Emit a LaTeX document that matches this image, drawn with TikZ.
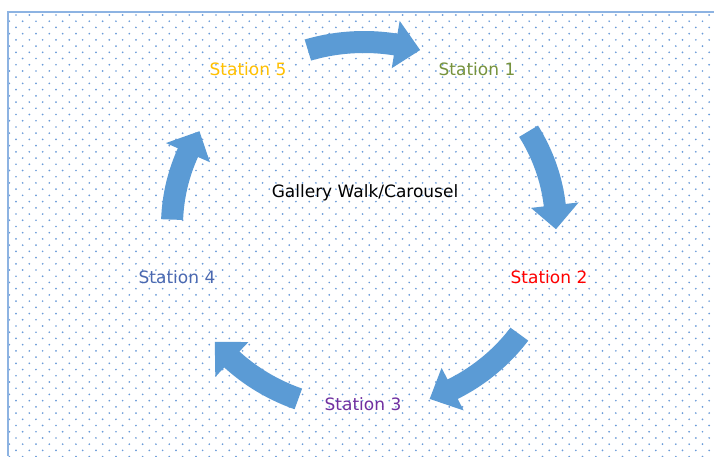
\documentclass[tikz,border=0pt]{standalone}
\usepackage{fontspec}
\setmainfont{DejaVu Sans}
\definecolor{arrowc}{HTML}{5B9BD5}
\definecolor{dotc}{HTML}{6A9BD8}
\definecolor{borderc}{HTML}{8DB3E2}
\definecolor{stone}{HTML}{76923C}
\definecolor{sttwo}{HTML}{FF0000}
\definecolor{stthree}{HTML}{7030A0}
\definecolor{stfour}{HTML}{4A68B0}
\definecolor{stfive}{HTML}{FFC000}
\newcommand\blockarc[2]{%
  \pgfmathsetmacro\bb{#2+7.5}%
  \fill[arrowc] plot[domain=#1:\bb,samples=30] ({364+(192+11)*cos(\x)},{230+(184+11)*sin(\x)})
    -- ({364+(192+24)*cos(\bb)},{230+(184+24)*sin(\bb)})
    -- ({364+192*cos(#2)},{230+184*sin(#2)})
    -- ({364+(192-24)*cos(\bb)},{230+(184-24)*sin(\bb)})
    -- plot[domain=\bb:#1,samples=30] ({364+(192-11)*cos(\x)},{230+(184-11)*sin(\x)})
    -- cycle;}
\tikzset{lbl/.style={font=\fontsize{17}{20}\selectfont, inner sep=0pt}}
\begin{document}
\begin{tikzpicture}[x=1pt,y=1pt]
\useasboundingbox (0,0) rectangle (714,456);
\fill[white] (0,0) rectangle (714,456);
% dot pattern
\foreach \r in {0,...,71} {
  \pgfmathsetmacro\yy{456-15-6.22*\r}
  \pgfmathsetmacro\xo{mod(\r,2)==0 ? 16 : 9.33}
  \foreach \c in {0,...,53} {
    \fill[dotc] ({\xo+13.33*\c},\yy) circle (0.95);
  }
}
% border
\draw[borderc, line width=2.2] (714,444) -- (8,444) -- (8,0);
% arrows
\blockarc{107}{73}
\blockarc{31}{-1}
\blockarc{-36}{-70}
\blockarc{-110}{-141}
\blockarc{178}{149}
% labels
\node[lbl, text=stone] (s1) at (477,387) {Station 1};
\node[lbl, text=sttwo] (s2) at (549,179) {Station 2};
\node[lbl, text=stthree] (s3) at (363,52) {Station 3};
\node[lbl, text=stfour] (s4) at (177,179) {Station 4};
\node[lbl, text=stfive] (s5) at (248,387) {Station 5};
\node[lbl, text=black] (c) at (365,263) {Gallery Walk/Carousel};
\end{tikzpicture}
\end{document}
